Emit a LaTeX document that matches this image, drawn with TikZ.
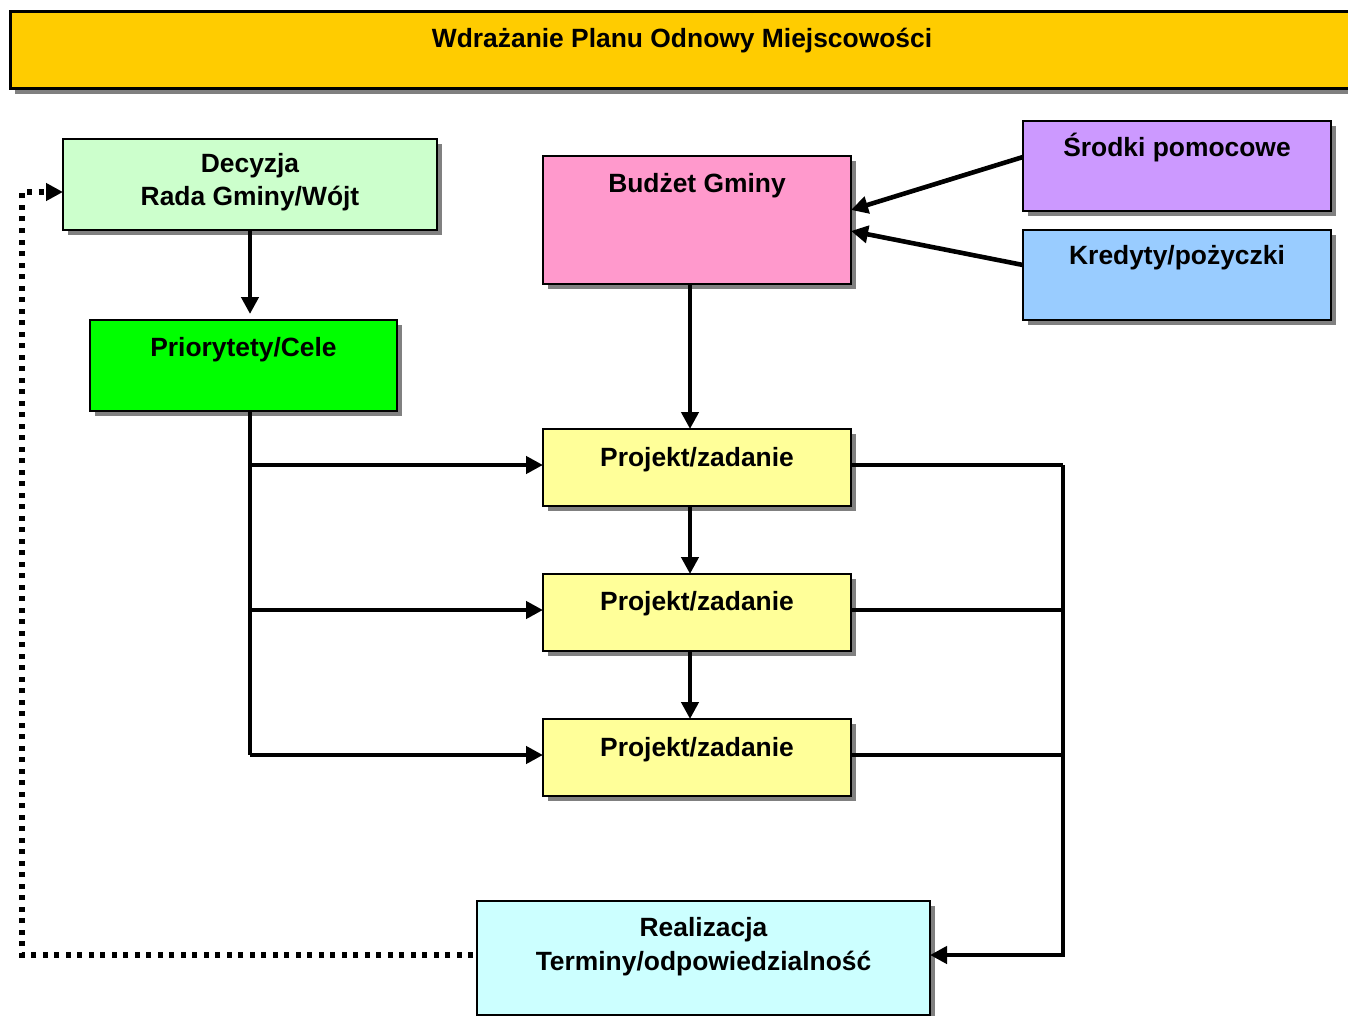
\documentclass[tikz,border=0pt]{standalone}
\usepackage{fontspec}
\setmainfont{Liberation Sans}
\usetikzlibrary{shadows,arrows.meta,calc}
\definecolor{cTitle}{HTML}{FFCC00}
\definecolor{cDec}{HTML}{CCFFCC}
\definecolor{cPri}{HTML}{00FF00}
\definecolor{cBud}{HTML}{FF99CC}
\definecolor{cSr}{HTML}{CC99FF}
\definecolor{cKr}{HTML}{99CCFF}
\definecolor{cPro}{HTML}{FFFF99}
\definecolor{cRe}{HTML}{CCFFFF}
\tikzset{
  box/.style={draw=black, line width=2pt, rectangle, inner sep=0pt, outer sep=0pt,
    drop shadow={shadow xshift=5pt, shadow yshift=-5pt, fill=black!50, opacity=1}},
  lbl/.style={anchor=base, inner sep=0pt, font=\fontsize{26.4}{32}\selectfont\bfseries},
  conn/.style={line width=4.6pt, -{Triangle[length=17pt,width=17pt]}},
  plain/.style={line width=4.6pt},
  dotline/.style={line width=5.5pt, dash pattern=on 5pt off 6.5pt, -{Triangle[length=17pt,width=17pt]}}
}
\begin{document}
\begin{tikzpicture}[x=1pt,y=-1pt]
\useasboundingbox[fill=white] (0,0) rectangle (1348,1016);
% boxes
\node[box, line width=3pt, fill=cTitle, minimum width=1344pt, minimum height=77pt] (title) at (682,50.5) {};
\node[lbl] at (682,48) {Wdrażanie Planu Odnowy Miejscowości};

\node[box, fill=cDec, minimum width=374pt, minimum height=91pt] (dec) at (250,184.5) {};
\node[lbl] at (250,173) {Decyzja};
\node[lbl] at (250,206) {Rada Gminy/Wójt};

\node[box, fill=cPri, minimum width=307pt, minimum height=91pt] (pri) at (243.5,365.5) {};
\node[lbl] at (243.5,356) {Priorytety/Cele};

\node[box, fill=cBud, minimum width=308pt, minimum height=128pt] (bud) at (697,220) {};
\node[lbl] at (697,193) {Budżet Gminy};

\node[box, fill=cSr, minimum width=308pt, minimum height=90pt] (sr) at (1177,166) {};
\node[lbl] at (1177,157) {Środki pomocowe};

\node[box, fill=cKr, minimum width=308pt, minimum height=90pt] (kr) at (1177,275) {};
\node[lbl] at (1177,265) {Kredyty/pożyczki};

\node[box, fill=cPro, minimum width=308pt, minimum height=77pt] (p1) at (697,467.5) {};
\node[lbl] at (697,466) {Projekt/zadanie};
\node[box, fill=cPro, minimum width=308pt, minimum height=77pt] (p2) at (697,612.5) {};
\node[lbl] at (697,610) {Projekt/zadanie};
\node[box, fill=cPro, minimum width=308pt, minimum height=77pt] (p3) at (697,757.5) {};
\node[lbl] at (697,756) {Projekt/zadanie};

\node[box, fill=cRe, minimum width=453pt, minimum height=114pt] (re) at (703.5,958) {};
\node[lbl] at (703.5,936) {Realizacja};
\node[lbl] at (703.5,970) {Terminy/odpowiedzialność};

% connector anchor points
\coordinate (p1e) at ([yshift=2.5pt]p1.east);
\coordinate (p2e) at ([yshift=2.5pt]p2.east);
\coordinate (p3e) at ([yshift=2.5pt]p3.east);
\coordinate (p1w) at ([yshift=2.5pt]p1.west);
\coordinate (p2w) at ([yshift=2.5pt]p2.west);
\coordinate (p3w) at ([yshift=2.5pt]p3.west);
\coordinate (ree) at ([yshift=3pt]re.east);
\coordinate (rew) at ([yshift=3pt]re.west);
\coordinate (decw) at ([yshift=-7.5pt]dec.west);

% connectors
\draw[conn, shorten >=6pt] (dec.south) -- (dec.south |- pri.north);
\draw[plain] (dec.south |- pri.south) -- (dec.south |- p3w);
\draw[conn] (dec.south |- p1w) -- (p1w);
\draw[conn] (dec.south |- p2w) -- (p2w);
\draw[conn] (dec.south |- p3w) -- (p3w);

\draw[conn] ([xshift=-7pt]bud.south) -- ([xshift=-7pt]p1.north);
\draw[conn] ([xshift=-7pt]p1.south) -- ([xshift=-7pt]p2.north);
\draw[conn] ([xshift=-7pt]p2.south) -- ([xshift=-7pt]p3.north);

\draw[conn] ([yshift=9pt]sr.west) -- ([yshift=10pt]bud.east);
\draw[conn] ([yshift=10pt]kr.west) -- ([yshift=-11pt]bud.east);

\coordinate (rjoin) at (1063,0);
\draw[plain] (p1e) -- (rjoin |- p1e);
\draw[plain] (p2e) -- (rjoin |- p2e);
\draw[plain] (p3e) -- (rjoin |- p3e);
\draw[conn, line join=miter] (rjoin |- p1e) -- (rjoin |- ree) -- (ree);

\coordinate (lcorner) at (22,0);
\draw[dotline] ([xshift=-4pt]rew) -- (lcorner |- rew) |- (decw);
\end{tikzpicture}
\end{document}
